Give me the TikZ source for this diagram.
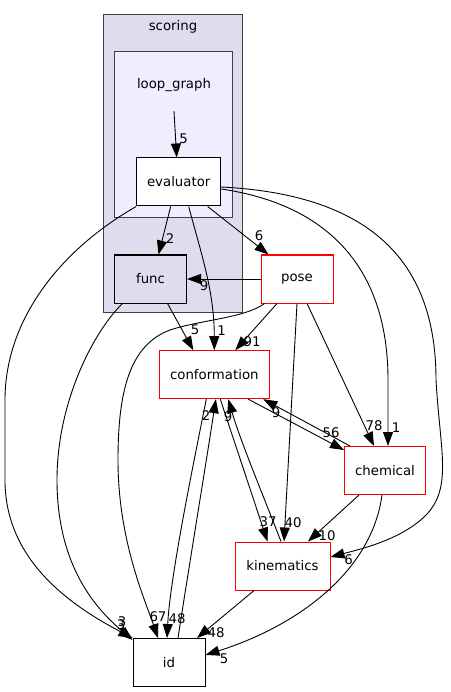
\documentclass[tikz,border=0pt]{standalone}
\usepackage{fontspec}
\setmainfont{DejaVu Sans}
\usetikzlibrary{arrows.meta}
\definecolor{clA}{HTML}{DDDDEE}
\definecolor{clC}{HTML}{EEEEFF}
\definecolor{clB}{HTML}{404040}

\begin{document}
\begin{tikzpicture}[x=1pt,y=-1pt,
  every node/.style={font=\fontsize{13.3}{16}\selectfont},
  dirbox/.style={draw,fill=white,minimum height=48pt,inner sep=0pt,line width=1pt},
  redbox/.style={dirbox,draw=red},
  cluster/.style={draw=clB,line width=1pt},
  lbl/.style={inner sep=0pt},
  dep/.style={-{Stealth[length=14pt,width=10pt,inset=0pt]},line width=0.9pt}]
  \useasboundingbox (0,0) rectangle (450,692);
  \draw[cluster,fill=clA] (103.3,15) rectangle (242.7,312.7);
  \node (scoring) at (173,27) {scoring};
  \draw[cluster,fill=clC] (114.3,51.7) rectangle (232.3,217.3);
  \node[minimum height=52pt,inner sep=0pt] (loopgraph) at (174,85) {loop\_graph};
  \node[dirbox,minimum width=84pt] (evaluator) at (178.7,182) {evaluator};
  \node[dirbox,fill=clA,minimum width=72pt] (func) at (150.5,279) {func};
  \node[redbox,minimum width=72pt] (pose) at (297,279) {pose};
  \node[redbox,minimum width=110pt] (conformation) at (214.3,374.7) {conformation};
  \node[redbox,minimum width=81pt] (chemical) at (385,470.5) {chemical};
  \node[redbox,minimum width=95pt] (kinematics) at (282.5,566) {kinematics};
  \node[dirbox,minimum width=72pt] (id) at (169,662.5) {id};

  \draw[dep] (loopgraph.south) -- ([xshift=-2pt]evaluator.north) node[lbl] at (183.5,138.5) {5};
  \draw[dep] ([xshift=-8pt]evaluator.south) -- ([xshift=8pt]func.north) node[lbl] at (170,238.5) {2};
  \draw[dep] ([xshift=29pt]evaluator.south) -- ([xshift=-28.5pt]pose.north) node[lbl] at (259,236) {6};
  \draw[dep] ([xshift=10pt]evaluator.south) .. controls (200,250) and (214.3,290) .. (conformation.north)
    node[lbl] at (221.7,331) {1};
  \draw[dep] (evaluator.south west) .. controls (60,250) and (5,320) .. (5,400) -- (5,480)
    .. controls (5,560) and (70,605) .. (id.north west) node[lbl] at (122,622) {3};
  \draw[dep] ([yshift=-7pt]evaluator.east) .. controls (330,205) and (388,270) .. (388,380)
    -- ([xshift=3pt]chemical.north) node[lbl] at (396,427.5) {1};
  \draw[dep] ([yshift=-5pt]evaluator.east) .. controls (380,195) and (436,270) .. (436,380)
    .. controls (440,450) and (452,485) .. (428,513) .. controls (405,538) and (365,548) .. ([yshift=9pt]kinematics.east)
    node[lbl] at (348.5,560) {6};

  \draw[dep] (pose.west) -- (func.east) node[lbl] at (204,286) {9};
  \draw[dep] ([xshift=17pt]func.south) -- ([xshift=-21pt]conformation.north) node[lbl] at (195,330) {5};
  \draw[dep] ([xshift=-28pt]func.south) .. controls (95,330) and (57,400) .. (57,480)
    .. controls (57,570) and (100,612) .. ([yshift=-2pt]id.north west) node[lbl] at (121,625) {3};

  \draw[dep] ([xshift=-20pt]pose.south) -- ([xshift=21pt]conformation.north) node[lbl] at (252,342) {91};
  \draw[dep] ([xshift=4pt]pose.south west) .. controls (245,318) and (200,320) .. (170,330)
    .. controls (130,345) and (118,390) .. (118,460) .. controls (118,540) and (145,600) .. ([xshift=-11pt]id.north)
    node[lbl] at (158,617) {67};
  \draw[dep] (pose.south) -- ([xshift=1.5pt]kinematics.north) node[lbl] at (293,523) {40};
  \draw[dep] ([xshift=10pt]pose.south) -- ([xshift=-11pt]chemical.north) node[lbl] at (374,426) {78};

  \draw[dep] ([xshift=34pt]conformation.south) -- ([yshift=-4pt]chemical.north west) node[lbl] at (331,433) {56};
  \draw[dep] ([xshift=-35pt]chemical.north) -- ([xshift=49pt]conformation.south) node[lbl] at (276,413) {9};
  \draw[dep] ([xshift=6pt]conformation.south) -- ([xshift=-15pt]kinematics.north) node[lbl] at (268,522) {37};
  \draw[dep] ([xshift=-1.5pt]kinematics.north) .. controls (265,500) and (240,440) .. ([xshift=14pt]conformation.south)
    node[lbl] at (228,417) {9};
  \draw[dep] ([xshift=-8pt]conformation.south) .. controls (190,480) and (170,580) .. ([xshift=-2pt]id.north)
    node[lbl] at (177,619) {48};
  \draw[dep] ([xshift=9pt]id.north) .. controls (190,560) and (205,470) .. ([xshift=1.5pt]conformation.south)
    node[lbl] at (206,416) {2};

  \draw[dep] ([xshift=-28.5pt]kinematics.south) -- ([xshift=28pt]id.north) node[lbl] at (216,633) {48};
  \draw[dep] ([xshift=-26pt]chemical.south) -- ([xshift=25.5pt]kinematics.north) node[lbl] at (327,536) {10};
  \draw[dep] ([xshift=-3pt]chemical.south) .. controls (372,570) and (300,625) .. ([yshift=7.5pt]id.east)
    node[lbl] at (224,659) {5};
\end{tikzpicture}
\end{document}
